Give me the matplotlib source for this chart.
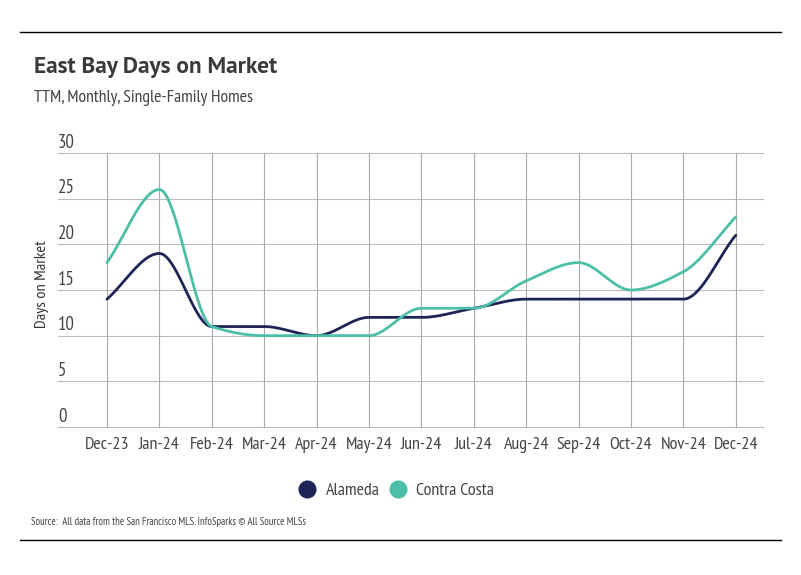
import numpy as np
import matplotlib
matplotlib.use('Agg')
import matplotlib.pyplot as plt
from matplotlib.lines import Line2D

months = ['Dec-23', 'Jan-24', 'Feb-24', 'Mar-24', 'Apr-24', 'May-24', 'Jun-24',
          'Jul-24', 'Aug-24', 'Sep-24', 'Oct-24', 'Nov-24', 'Dec-24']
alameda = [14, 19, 11, 11, 10, 12, 12, 13, 14, 14, 14, 14, 21]
contra_costa = [18, 26, 11, 10, 10, 10, 13, 13, 16, 18, 15, 17, 23]
yticks = [0, 5, 10, 15, 20, 25, 30]

navy = '#1c2556'
teal = '#4dbfa8'
txt = '#444444'
narrow = ['PT Sans Narrow', 'DejaVu Sans']
ptsans = ['PT Sans', 'DejaVu Sans']


def monotone(x, y, n=40):
    # Fritsch-Carlson monotone cubic, only to smooth the drawn line
    x = np.asarray(x, float)
    y = np.asarray(y, float)
    h = np.diff(x)
    d = np.diff(y) / h
    m = np.zeros_like(y)
    m[0], m[-1] = d[0], d[-1]
    for i in range(1, len(y) - 1):
        if d[i - 1] * d[i] <= 0:
            m[i] = 0
        else:
            m[i] = 2 / (1 / d[i - 1] + 1 / d[i])
    xs, ys = [], []
    t = np.linspace(0, 1, n)
    h00 = 2 * t**3 - 3 * t**2 + 1
    h10 = t**3 - 2 * t**2 + t
    h01 = -2 * t**3 + 3 * t**2
    h11 = t**3 - t**2
    for i in range(len(h)):
        xs.append(x[i] + t * h[i])
        ys.append(h00 * y[i] + h10 * h[i] * m[i] + h01 * y[i + 1] + h11 * h[i] * m[i + 1])
    return np.concatenate(xs), np.concatenate(ys)


fig = plt.figure(figsize=(8.01, 5.75), dpi=100)
ax = fig.add_axes([58 / 801, 1 - 427 / 575, (763 - 58) / 801, (427 - 153) / 575])

x = np.arange(len(months))
for vals, col, lab in [(alameda, navy, 'Alameda'), (contra_costa, teal, 'Contra Costa')]:
    sx, sy = monotone(x, vals)
    ax.plot(sx, sy, color=col, lw=2, label=lab, solid_capstyle='round', zorder=3)

ax.set_xlim(-0.935, 12.52)
ax.set_ylim(0, 30)
ax.set_xticks(x)
ax.set_xticklabels(months, fontsize=13, color=txt, family=narrow)
ax.set_yticks(yticks)
ax.set_yticklabels([])
ax.tick_params(length=0, pad=7)
for v in yticks:
    ax.axhline(v, color='#bbbbbb', lw=0.8, clip_on=False, zorder=0)
    ax.text(0, v + 0.15, str(v), transform=ax.get_yaxis_transform(), ha='left', va='bottom',
            fontsize=13.5, color=txt, family=narrow)
for xi in x:
    ax.plot([xi, xi], [0, 30], color='#aaaaaa', lw=0.8, zorder=0, clip_on=False)
for s in ax.spines.values():
    s.set_visible(False)

fig.text(42 / 801, 1 - 284 / 575, 'Days on Market', rotation=90, ha='center', va='center',
         fontsize=11.8, color='#333333', family=narrow)

fig.text(34 / 801, 1 - 68 / 575, 'East Bay Days on Market', fontsize=16.8, fontweight='bold',
         color='#3a3a3a', family=ptsans, va='center')
fig.text(34 / 801, 1 - 98 / 575, 'TTM, Monthly, Single-Family Homes', fontsize=12.8,
         color='#444444', family=narrow, va='center')
fig.text(31 / 801, 1 - 522 / 575,
         'Source:  All data from the San Francisco MLS. InfoSparks \u00a9 All Source MLSs',
         fontsize=7.65, color='#444444', family=narrow, va='center')

fig.add_artist(Line2D([20 / 801, 781 / 801], [1 - 32 / 575] * 2, color='black', lw=1))
fig.add_artist(Line2D([20 / 801, 781 / 801], [1 - 540 / 575] * 2, color='black', lw=1))

handles = [Line2D([], [], marker='o', ls='', ms=12, color=navy),
           Line2D([], [], marker='o', ls='', ms=12, color=teal)]
fig.legend(handles, ['Alameda', 'Contra Costa'], loc='center', bbox_to_anchor=(396 / 801, 1 - 491 / 575),
           ncol=2, frameon=False, handlelength=1.0, handletextpad=0.5, columnspacing=0.5,
           borderpad=0, prop={'family': narrow, 'size': 13}, labelcolor='#444444')

fig.savefig('out.png', dpi=100)
